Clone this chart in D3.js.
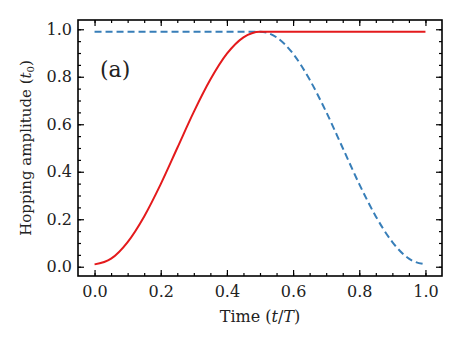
<!DOCTYPE html>
<html lang="en">
<head>
<meta charset="UTF-8">
<title>Hopping amplitude</title>
<script src="https://d3js.org/d3.v7.min.js"></script>
<style>
  body { margin: 0; background: #fff; }
  svg text { font-family: "DejaVu Serif", serif; fill: #222; }
</style>
</head>
<body>
<svg id="chart" width="463" height="347"></svg>
<script>
// sampled time points (t/T)
const times = [0, 0.05, 0.1, 0.15, 0.2, 0.25, 0.3, 0.35, 0.4, 0.45, 0.5,
               0.55, 0.6, 0.65, 0.7, 0.75, 0.8, 0.85, 0.9, 0.95, 1.0];
// red solid: ramp up then hold
const rampUp = [0.01, 0.034, 0.104, 0.212, 0.348, 0.50, 0.652, 0.788, 0.897, 0.966, 0.99,
                0.99, 0.99, 0.99, 0.99, 0.99, 0.99, 0.99, 0.99, 0.99, 0.99];
// blue dashed: hold then ramp down
const rampDown = [0.99, 0.99, 0.99, 0.99, 0.99, 0.99, 0.99, 0.99, 0.99, 0.99, 0.99,
                  0.966, 0.897, 0.788, 0.652, 0.50, 0.348, 0.212, 0.104, 0.034, 0.01];
const xTicks = [0, 0.2, 0.4, 0.6, 0.8, 1.0];
const yTicks = [0, 0.2, 0.4, 0.6, 0.8, 1.0];

const svg = d3.select("#chart");
const margin = { top: 20, right: 21, bottom: 71, left: 78 };
const width = 463 - margin.left - margin.right;
const height = 347 - margin.top - margin.bottom;
const g = svg.append("g").attr("transform", `translate(${margin.left},${margin.top})`);

const x = d3.scaleLinear().domain([-0.05, 1.05]).range([0, width]);
const y = d3.scaleLinear().domain([-0.039, 1.039]).range([height, 0]);

const minorX = d3.range(0, 1.0001, 0.05);
const minorY = d3.range(0, 1.0001, 0.05);

function tickAxis(axis, vals, size, fmt) {
  return axis.tickValues(vals).tickSizeInner(-size).tickSizeOuter(0).tickPadding(6).tickFormat(fmt);
}
const noLbl = () => "";

// minor ticks
g.append("g").attr("transform", `translate(0,${height})`).call(tickAxis(d3.axisBottom(x), minorX, 3, noLbl));
g.append("g").call(tickAxis(d3.axisTop(x), minorX, 3, noLbl));
g.append("g").call(tickAxis(d3.axisLeft(y), minorY, 3, noLbl));
g.append("g").attr("transform", `translate(${width},0)`).call(tickAxis(d3.axisRight(y), minorY, 3, noLbl));
// major ticks
g.append("g").attr("class", "lab").attr("transform", `translate(0,${height})`)
  .call(tickAxis(d3.axisBottom(x), xTicks, 6, d3.format(".1f")).tickPadding(10));
g.append("g").call(tickAxis(d3.axisTop(x), xTicks, 6, noLbl));
g.append("g").attr("class", "lab")
  .call(tickAxis(d3.axisLeft(y), yTicks, 6, d3.format(".1f")).tickPadding(6));
g.append("g").attr("transform", `translate(${width},0)`).call(tickAxis(d3.axisRight(y), yTicks, 6, noLbl));

g.selectAll(".domain").remove();
g.selectAll("g").attr("font-family", null);
g.selectAll(".tick line").attr("stroke", "#000").attr("stroke-width", 1.2);
g.selectAll(".lab text").attr("font-size", 16).attr("fill", "#222");

// frame
g.append("rect").attr("width", width).attr("height", height)
  .attr("fill", "none").attr("stroke", "#000").attr("stroke-width", 1.6);

const line = d3.line().curve(d3.curveMonotoneX);

g.append("path")
  .attr("d", line(times.map((t, i) => [x(t), y(rampDown[i])])))
  .attr("fill", "none").attr("stroke", "#377eb8").attr("stroke-width", 2)
  .attr("stroke-dasharray", "7,4");

g.append("path")
  .attr("d", line(times.map((t, i) => [x(t), y(rampUp[i])])))
  .attr("fill", "none").attr("stroke", "#e41a1c").attr("stroke-width", 2);

// panel label
g.append("text").attr("x", 22).attr("y", 57).attr("font-size", 22).text("(a)");

// axis labels
svg.append("text")
  .attr("x", margin.left + width / 2).attr("y", 322)
  .attr("text-anchor", "middle").attr("font-size", 16)
  .html('Time (<tspan font-style="italic">t</tspan>/<tspan font-style="italic">T</tspan>)');

svg.append("text")
  .attr("transform", `translate(31,${margin.top + height / 2}) rotate(-90)`)
  .attr("text-anchor", "middle").attr("font-size", 15)
  .html('Hopping amplitude (<tspan font-style="italic">t</tspan><tspan font-size="10" dy="3">0</tspan><tspan dy="-3">)</tspan>');
</script>
</body>
</html>
